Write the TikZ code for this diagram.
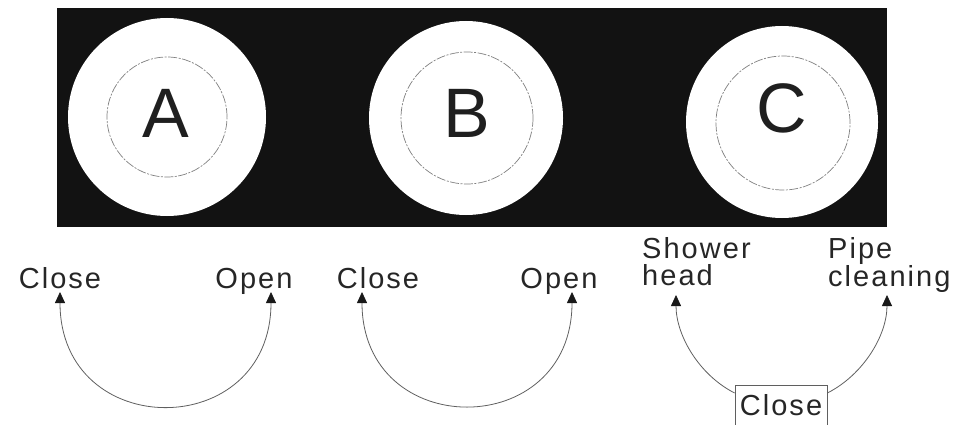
\documentclass[tikz,border=0pt]{standalone}
\usepackage{fontspec}
\setmainfont{Liberation Sans}
\newfontfamily\labelfont[LetterSpace=7]{Liberation Sans}
\usetikzlibrary{positioning, arrows.meta}
\definecolor{linegray}{HTML}{5F5F5F}
\definecolor{ringgray}{HTML}{808080}

\begin{document}
\begin{tikzpicture}[x=1pt, y=1pt, >={Triangle[width=10pt, length=11pt, color=black!90]},
    knob/.style={circle, fill=white, inner sep=0pt},
    ring/.style={circle, draw=ringgray, line width=0.7pt, dash pattern=on 9pt off 1.5pt on 2pt off 1.5pt, inner sep=0pt},
    letter/.style={anchor=base, inner sep=0pt, font=\fontsize{70}{70}\selectfont, text=black!88},
    lbl/.style={inner sep=0pt, font=\labelfont\fontsize{29}{27}\selectfont, text=black!85},
    arc/.style={draw=linegray, line width=0.8pt}]

        \useasboundingbox (0,0) rectangle (965,424);

        % Panel with the three knobs
        \fill[black!93] (57,197) rectangle (887,416);

        \node[knob, minimum size=198pt] (knobA) at (167,307) {};
        \node[knob, minimum size=194pt] (knobB) at (466,306) {};
        \node[knob, minimum size=192pt] (knobC) at (782,302) {};

        \node[ring, minimum size=120pt] (ringA) at (167,307) {};
        \node[ring, minimum size=132pt] (ringB) at (467,306) {};
        \node[ring, minimum size=134pt] (ringC) at (783,301) {};

        \node[letter] (letA) at (166,287) {A};
        \node[letter] (letB) at (467,287) {B};
        \node[letter] (letC) at (782,292) {C};

        % Labels under the panel
        \node[lbl, anchor=base] (closeA) at (60,136) {Close};
        \node[lbl, anchor=base] (openA) at (254,136) {Open};
        \node[lbl, anchor=base] (closeB) at (378,136) {Close};
        \node[lbl, anchor=base] (openB) at (559,136) {Open};
        \node[lbl, anchor=north west, align=left] (shower) at (642,187) {Shower\\head};
        \node[lbl, anchor=north west, align=left] (pipe) at (828,187) {Pipe\\cleaning};
        \node[lbl, draw=linegray, line width=0.8pt, anchor=north, minimum width=92pt,
              text height=21pt, text depth=15pt, inner ysep=9pt] (closeC) at (781,39) {Close};

        % Arrow tips
        \coordinate (tipCloseA) at (60,132);
        \coordinate (tipOpenA) at (271,132);
        \coordinate (tipCloseB) at (362,132);
        \coordinate (tipOpenB) at (572,132);
        \coordinate (tipShower) at (676,129);
        \coordinate (tipPipe) at (887,129);

        % Turning arrows
        \draw[arc, <->] (tipCloseA) to[out=-90, in=-90, looseness=1.83] (tipOpenA);
        \draw[arc, <->] (tipCloseB) to[out=-90, in=-90, looseness=1.83] (tipOpenB);
        \draw[arc, ->] ([yshift=-8pt]closeC.north west) to[out=153, in=-90, looseness=0.9] (tipShower);
        \draw[arc, ->] ([yshift=-8pt]closeC.north east) to[out=27, in=-90, looseness=0.9] (tipPipe);

    \end{tikzpicture}
\end{document}
